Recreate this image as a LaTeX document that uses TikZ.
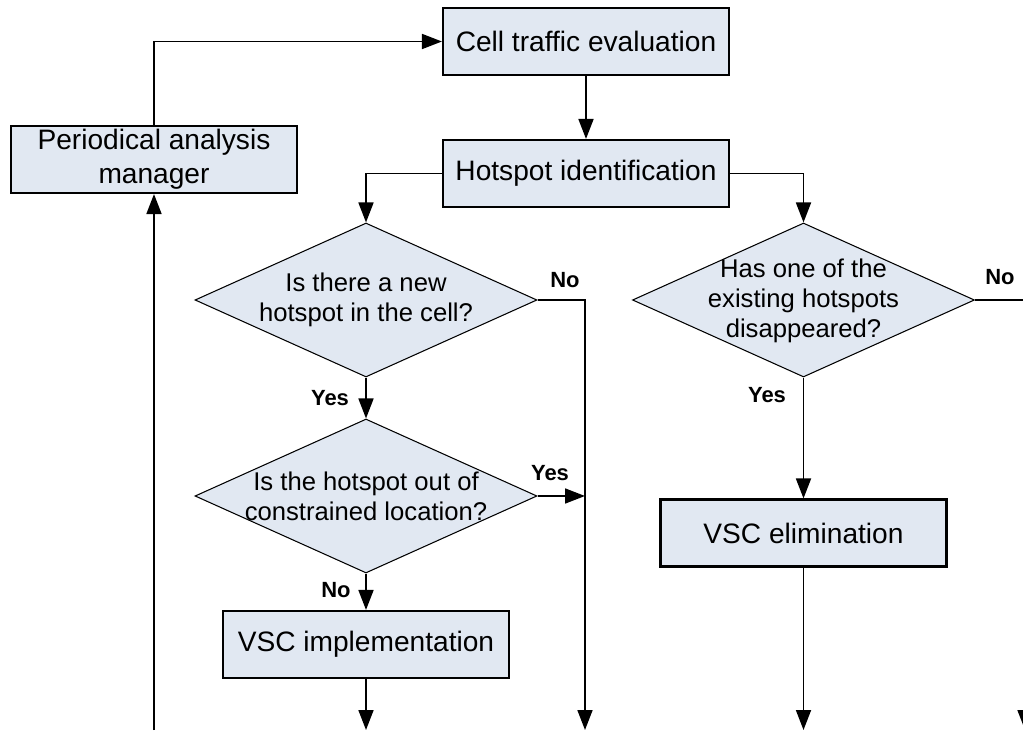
\documentclass[tikz,border=0pt]{standalone}
\usepackage{fontspec}
\setmainfont{Liberation Sans}
\usepackage{tikz}
\usetikzlibrary{arrows.meta, shapes.geometric}
\usepackage{xcolor}
\definecolor{boxfill}{RGB}{225,232,242}

\tikzset{
    block/.style={draw, fill=boxfill, line width=1.2pt, minimum width=5.72cm, minimum height=1.34cm, inner sep=0pt, align=center, font=\fontsize{16}{19.3}\selectfont},
    decision/.style={draw, fill=boxfill, diamond, line width=0.6pt, minimum width=6.84cm, minimum height=3.08cm, inner sep=0pt},
    dtext/.style={align=center, inner sep=0pt, font=\fontsize{14.6}{17}\selectfont},
    answer/.style={inner sep=0pt, font=\bfseries\fontsize{12.5}{15}\selectfont},
    flow/.style={line width=1pt, -{Triangle[width=0.3cm, length=0.4cm]}},
}

\begin{document}
\begin{tikzpicture}

    \useasboundingbox (0,0) rectangle (20.46,14.6);

    \node[block] (eval) at (11.72,13.77) {Cell traffic evaluation};
    \node[block] (ident) at (11.72,11.13) {Hotspot identification};
    \node[block] (mgr) at (3.08,11.41) {Periodical analysis\\manager};

    \node[decision] (newhs) at (7.32,8.6) {};
    \node[dtext] (newhstxt) at (newhs.center) {Is there a new\\hotspot in the cell?};
    \node[decision] (outloc) at (7.32,4.68) {};
    \node[dtext] (outloctxt) at (outloc.center) {Is the hotspot out of\\constrained location?};
    \node[decision] (gone) at (16.07,8.6) {};
    \node[dtext] (gonetxt) at (16.07,8.58) {Has one of the\\existing hotspots\\disappeared?};

    \node[block] (impl) at (7.32,1.71) {VSC implementation};
    \node[block] (elim) at (16.07,3.94) {VSC elimination};

    \coordinate (mgrin) at (3.08,0);
    \coordinate (noA) at (11.7,8.6);
    \coordinate (noAend) at (11.7,0);
    \coordinate (yesA) at (11.7,4.68);
    \coordinate (implend) at (7.32,0);
    \coordinate (elimend) at (16.07,0);
    \coordinate (noB) at (20.5,8.6);
    \coordinate (noBend) at (20.5,0);

    \draw[flow] (mgr.north) |- (eval.west);
    \draw[flow] (eval.south) -- (ident.north);
    \draw[flow] (ident.west) -| (newhs.north);
    \draw[flow] (ident.east) -| (gone.north);
    \draw[flow] (newhs.south) -- (outloc.north);
    \draw[flow] (newhs.east) -- (noA) -- (noAend);
    \draw[flow] (outloc.east) -- (yesA);
    \draw[flow] (outloc.south) -- (impl.north);
    \draw[flow] (impl.south) -- (implend);
    \draw[flow] (gone.south) -- (elim.north);
    \draw[flow] (elim.south) -- (elimend);
    \draw[flow] (gone.east) -- (noB) -- (noBend);
    \draw[flow] (mgrin) -- (mgr.south);

    \node[answer] (lno1) at (11.3,9.0) {No};
    \node[answer] (lyes1) at (6.6,6.64) {Yes};
    \node[answer] (lyes2) at (11.0,5.14) {Yes};
    \node[answer] (lno2) at (6.72,2.8) {No};
    \node[answer] (lyes3) at (15.34,6.7) {Yes};
    \node[answer] (lno3) at (20.0,9.06) {No};
\end{tikzpicture}
\end{document}
